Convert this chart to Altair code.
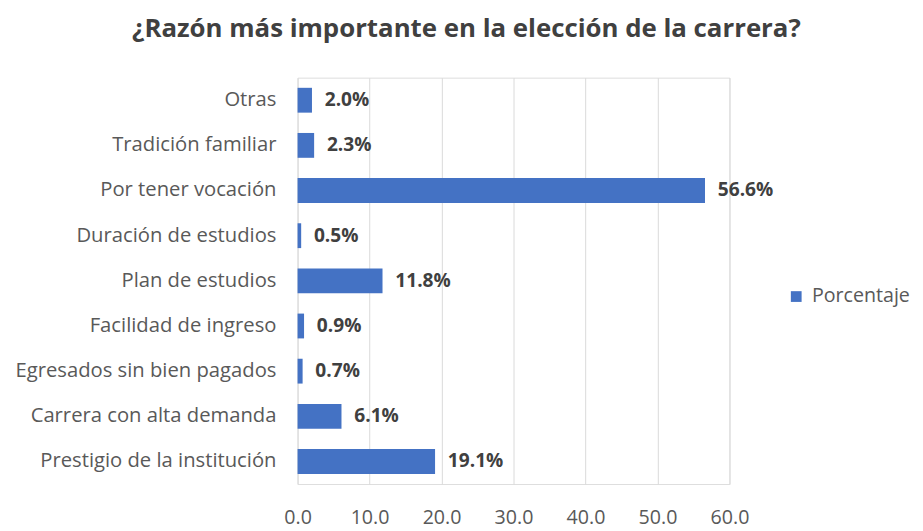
import altair as alt
import pandas as pd

categories = ["Otras", "Tradición familiar", "Por tener vocación", "Duración de estudios",
              "Plan de estudios", "Facilidad de ingreso", "Egresados sin bien pagados",
              "Carrera con alta demanda", "Prestigio de la institución"]
values = [2.0, 2.3, 56.6, 0.5, 11.8, 0.9, 0.7, 6.1, 19.1]
x_ticks = [0, 10, 20, 30, 40, 50, 60]

df = pd.DataFrame({"Razón": categories, "Porcentaje": values, "Serie": ["Porcentaje"] * len(values)})
df["label"] = [f"{v:.1f}%" for v in values]

FONT = "Open Sans"

base = alt.Chart(df).encode(
    y=alt.Y("Razón:N", sort=categories, title=None,
            scale=alt.Scale(paddingInner=0.45, paddingOuter=0.225),
            axis=alt.Axis(labelFontSize=20.6, labelColor="#595959", labelFont=FONT,
                          ticks=False, domain=False, grid=False, labelPadding=22,
                          minExtent=284, maxExtent=284, labelLimit=300)),
)

bars = base.mark_bar(color="#4472C4").encode(
    x=alt.X("Porcentaje:Q", title=None, scale=alt.Scale(domain=[0, 60], nice=False),
            axis=alt.Axis(values=x_ticks, format=".1f", labelFontSize=20, labelColor="#595959",
                          labelFont=FONT, ticks=False, domain=False, gridColor="#D9D9D9",
                          labelPadding=24, labelFlush=False, labelOverlap=False)),
    color=alt.Color("Serie:N", scale=alt.Scale(range=["#4472C4"]),
                    legend=alt.Legend(title=None, orient="none", legendX=498, legendY=213,
                                      symbolType="square", symbolSize=120, labelFontSize=20,
                                      labelColor="#595959", labelFont=FONT, symbolStrokeWidth=0,
                                      labelOffset=6)),
)

text = base.mark_text(align="left", baseline="middle", dx=13, fontSize=19.5, fontWeight="bold",
                      color="#404040", font=FONT).encode(
    x=alt.X("Porcentaje:Q"),
    text="label:N",
)

chart = (bars + text).properties(
    width=440, height=414,
    title=alt.TitleParams("¿Razón más importante en la elección de la carrera?", fontSize=26.3,
                          font=FONT, fontWeight="bold", color="#404040", offset=36,
                          anchor="middle", frame="group", dx=-48),
    padding={"left": 7, "top": 3, "right": 5, "bottom": 5},
).configure_view(stroke=None).configure(background="white")

chart.save("out.html", embed_options={"renderer": "svg", "actions": False})
